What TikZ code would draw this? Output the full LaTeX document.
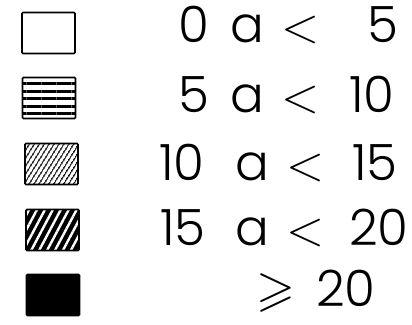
\documentclass[tikz,border=0pt]{standalone}
\usepackage{fix-cm}
\usepackage{amssymb}
\usepackage{fontspec}
\setmainfont{Poppins Light}
\usetikzlibrary{patterns.meta}
\tikzset{
  % legend boxes
  keybox/.style={draw=black,line width=1.6pt,rounded corners=1pt,inner sep=0pt,
                 minimum width=53pt,minimum height=41pt},
  kempty/.style={fill=white},
  khoriz/.style={pattern={Lines[angle=0,distance=7.5pt,line width=3pt]},pattern color=black},
  kfine/.style={pattern={Lines[angle=58,distance=4pt,line width=1.5pt]},pattern color=black},
  kcoarse/.style={preaction={fill=black},
                  pattern={Lines[angle=62,distance=7pt,line width=2.4pt]},pattern color=white},
  kfull/.style={fill=black},
  % labels
  lbl/.style={anchor=base west,inner sep=0pt,font=\fontsize{50}{50}\selectfont},
  rel/.style={anchor=base west,inner sep=0pt,font=\fontsize{50}{50}\selectfont},
}
\begin{document}
\begin{tikzpicture}[x=1pt,y=-1pt]
  \useasboundingbox (0,0) rectangle (412,324);
  \node[keybox,kempty]  (k1) at (48.5,33)  {};
  \node[keybox,khoriz]  (k2) at (49,98)    {};
  \node[keybox,kfine]   (k3) at (51.5,164) {};
  \node[keybox,kcoarse] (k4) at (52.5,230) {};
  \node[keybox,kfull]   (k5) at (53,295)   {};
  % row 1
  \node[lbl] (lo1) at (178,42) {0};
  \node[lbl] (a1)  at (230,42) {a};
  \node[rel] (lt1) at (281,42) {$<$};
  \node[lbl] (hi1) at (367,42) {5};
  % row 2
  \node[lbl] (lo2) at (178,112) {5};
  \node[lbl] (a2)  at (230,112) {a};
  \node[rel] (lt2) at (281,112) {$<$};
  \node[lbl] (hi2) at (349,112) {10};
  % row 3
  \node[lbl] (lo3) at (159,180) {10};
  \node[lbl] (a3)  at (235,180) {a};
  \node[rel] (lt3) at (286,180) {$<$};
  \node[lbl] (hi3) at (352,180) {15};
  % row 4
  \node[lbl] (lo4) at (160,245) {15};
  \node[lbl] (a4)  at (235,245) {a};
  \node[rel] (lt4) at (286,245) {$<$};
  \node[lbl] (hi4) at (349,245) {20};
  % row 5
  \node[rel] (ge5) at (256,305) {$\geqslant$};
  \node[lbl] (hi5) at (316,306) {20};
\end{tikzpicture}
\end{document}
